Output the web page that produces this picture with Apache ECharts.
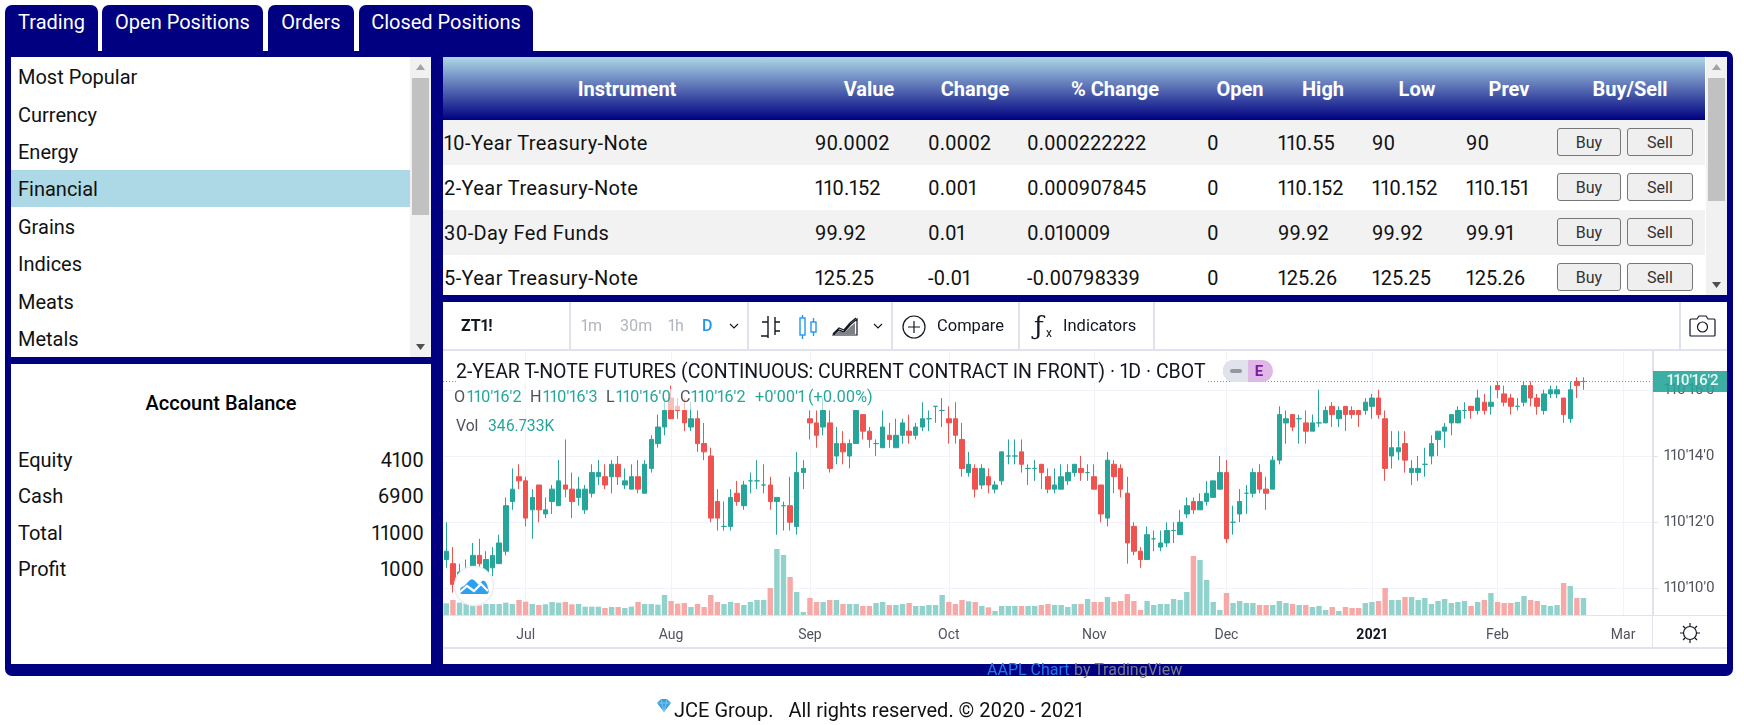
<!DOCTYPE html>
<html><head><meta charset="utf-8">
<script src="https://cdn.jsdelivr.net/npm/echarts@6/dist/echarts.min.js"></script>
<style>
html,body{margin:0;padding:0;width:1744px;height:725px;overflow:hidden;background:#fff;font-family:Roboto,sans-serif;font-variant-numeric:proportional-nums}
.a{position:absolute}
.t{position:absolute;white-space:nowrap;line-height:1;transform:translateY(-50%)}
</style></head><body>
<div id="page"></div>
<script>
// ---- chart data: price ticks are eighths of a 32nd above 110'14'0
const open  = [-25,-26,-30,-30,-27,-24,-28,-27,-26,-23,-11,-5,-6,-13,-7,-14,-11,-12,-7,-8,-10,-13,-9,-5,-5,-5,-2,-7,-8,-5,-9,-3,3,7,14,12,11,7,9,3,0,-11,-17,-17,-9,-12,-6,-6,-7,-7,-11,-12,-12,-17,-4,9,8,7,8,0,3,0,3,10,6,3,2,5,2,5,6,5,7,9,12,11,9,9,4,-4,-3,-7,-5,-8,-6,0,0,1,-3,-3,-2,-5,-8,-8,-6,-4,-3,-4,-5,-7,-15,-2,-3,-9,-17,-23,-25,-20,-22,-21,-18,-19,-14,-11,-13,-11,-10,-8,-4,-16,-14,-9,-9,-4,-8,-8,-1,8,10,9,8,6,8,8,12,9,12,11,11,11,12,14,9,0,1,3,-4,-4,-2,0,4,6,8,8,11,12,11,13,12,17,15,14,12,13,17,14,11,15,15,14,9,18,18];
const close = [-23,-31,-28,-28,-24,-26,-25,-24,-21,-12,-8,-6,-15,-10,-13,-13,-8,-6,-8,-11,-8,-8,-4,-4,-7,-2,-5,-6,-5,-8,-2,4,7,11,9,11,8,9,3,1,-15,-15,-17,-10,-11,-7,-6,-6,-7,-11,-10,-12,-16,-4,-3,8,5,11,-3,3,1,3,11,6,4,3,7,4,5,8,5,7,9,9,12,11,8,5,-3,-2,-8,-3,-7,-7,1,0,0,-2,-3,-3,-4,-8,-7,-5,-4,-2,-4,-4,-8,-14,-1,-5,-8,-21,-23,-25,-19,-20,-21,-18,-18,-16,-12,-13,-11,-9,-6,-4,-20,-16,-11,-9,-4,-8,-9,-1,10,9,7,9,6,8,8,11,10,11,10,10,10,13,14,10,-3,2,2,-1,-3,-3,-2,3,6,7,10,11,11,11,14,11,13,16,13,12,12,17,14,12,15,16,16,10,16,17,18];
const low   = [-27,-33,-33,-33,-28,-28,-29,-29,-26,-24,-13,-8,-17,-20,-16,-15,-14,-12,-10,-15,-12,-14,-10,-7,-8,-9,-7,-8,-8,-9,-9,-4,2,5,9,9,6,6,1,-1,-16,-18,-18,-18,-12,-13,-9,-8,-9,-13,-19,-18,-18,-19,-8,4,2,5,-4,-2,-2,-3,3,4,2,0,2,2,2,3,3,4,6,6,8,7,3,3,-5,-5,-10,-8,-9,-9,-7,-2,-2,-4,-7,-6,-8,-9,-9,-8,-7,-5,-6,-6,-8,-16,-17,-9,-10,-26,-24,-27,-25,-23,-23,-22,-21,-19,-15,-14,-13,-12,-10,-8,-21,-19,-16,-14,-10,-9,-13,-8,-2,3,6,3,3,6,7,8,7,7,6,9,7,10,9,9,-6,-3,-1,-4,-7,-6,-5,-2,0,2,5,8,9,9,10,10,10,14,12,10,11,12,12,10,10,14,14,8,8,14,16];
const high  = [-16,-22,-26,-25,-21,-20,-23,-22,-19,-10,-3,-2,-5,-8,-7,-10,-7,-1,4,-4,-5,-7,-2,-1,-2,-1,0,-3,-2,-1,-1,5,10,14,17,14,14,13,11,8,2,-8,-11,-8,-6,-6,-4,-1,-2,-5,-10,-11,-5,1,-1,11,11,14,11,7,6,4,11,10,7,4,11,8,9,9,10,8,13,11,12,14,12,13,8,1,-2,-2,-3,-6,1,4,4,4,-2,-1,-2,-3,-3,-2,-2,-2,0,-2,-2,-7,1,-1,-2,-5,-16,-22,-17,-18,-18,-16,-16,-13,-10,-10,-9,-6,-6,0,-1,-12,-8,-7,-3,-2,-5,0,12,11,10,10,11,10,16,12,13,12,12,12,11,14,15,16,11,6,6,6,-1,0,2,5,6,8,10,12,13,12,16,15,17,18,17,15,14,18,18,15,16,17,17,14,18,19,19];
const volumeK = [238,306,252,238,197,197,224,224,224,252,224,306,272,224,204,218,265,252,265,218,224,170,170,170,143,163,163,143,170,265,224,224,211,408,286,231,245,163,224,163,408,265,224,265,245,204,265,306,306,551,1346,1224,775,469,61,347,265,265,306,306,224,224,224,184,184,245,265,204,204,224,245,184,184,204,204,408,265,224,306,279,265,184,156,82,184,184,184,184,184,184,204,224,204,204,163,224,224,326,265,265,367,265,286,428,286,102,286,204,224,224,326,306,469,1204,1122,714,265,102,449,245,286,245,245,204,204,204,286,245,224,204,204,163,184,102,163,82,163,143,143,245,265,286,551,306,306,367,367,306,347,224,286,326,245,265,286,184,265,306,449,265,245,245,265,388,306,286,204,184,204,653,592,347,346.733];
const tickIndex = [12,34,55,76,98,118,140,159,178];
const tickLabels = ['Jul','Aug','Sep','Oct','Nov','Dec','2021','Feb','Mar'];
const priceTicks = [10,12,14,16];
const lastPrice = 16.25;
const slotCount = 183;

const menuItems = ['Most Popular','Currency','Energy','Financial','Grains','Indices','Meats','Metals'];
const tabs = ['Trading','Open Positions','Orders','Closed Positions'];
const balanceLabels = ['Equity','Cash','Total','Profit'];
const balanceValues = ['4100','6900','11000','1000'];
const tableHead = ['Instrument','Value','Change','% Change','Open','High','Low','Prev','Buy/Sell'];
const tableRows = [
 ['10-Year Treasury-Note','90.0002','0.0002','0.000222222','0','110.55','90','90'],
 ['2-Year Treasury-Note','110.152','0.001','0.000907845','0','110.152','110.152','110.151'],
 ['30-Day Fed Funds','99.92','0.01','0.010009','0','99.92','99.92','99.91'],
 ['5-Year Treasury-Note','125.25','-0.01','-0.00798339','0','125.26','125.25','125.26']];

// ---- page shell
let page = document.getElementById('page');
function box(x,y,w,h,css){const d=document.createElement('div');d.className='a';d.style.cssText=`left:${x}px;top:${y}px;width:${w}px;height:${h}px;`+(css||'');page.appendChild(d);return d;}
function txt(x,y,s,css,anchor){const d=document.createElement('div');d.className='t';d.textContent=s;
  let st=`top:${y}px;`;
  if(anchor==='r') st+=`right:${1744-x}px;`; else if(anchor==='c') st+=`left:${x}px;transform:translate(-50%,-50%);`; else st+=`left:${x}px;`;
  d.style.cssText=st+(css||'');page.appendChild(d);return d;}
function svg(x,y,w,h,inner,css){const d=document.createElement('div');d.className='a';d.style.cssText=`left:${x}px;top:${y}px;width:${w}px;height:${h}px;`+(css||'');
  d.innerHTML=`<svg width="${w}" height="${h}" viewBox="0 0 ${w} ${h}" xmlns="http://www.w3.org/2000/svg" style="display:block">${inner}</svg>`;page.appendChild(d);return d;}

const NAVY='#000080', UI='color:#111;font-size:20px;';
box(5,51,1728,625,`background:${NAVY};border-radius:0 7px 7px 7px;`);
const tabX=[[5,98],[102,263],[268,354],[359,533]];
tabs.forEach((s,i)=>{box(tabX[i][0],5,tabX[i][1]-tabX[i][0],50,`background:${NAVY};border-radius:7px 7px 0 0;`);
  txt((tabX[i][0]+tabX[i][1])/2,22,s,'color:#fff;font-size:20px;','c');});

// left list
box(11,57,420,300,'background:#fff;');
box(11,170,399,37,'background:#add8e6;');
const menuY=[77,114.5,152,189,226.5,264,302,339];
menuItems.forEach((s,i)=>txt(18,menuY[i],s,UI));
function scrollbar(x,y,w,h,thumbTop,thumbH){
  box(x,y,w,h,'background:#f1f1f1;');
  box(x+2,thumbTop,w-4,thumbH,'background:#c1c1c1;');
  svg(x+6,y+7,9,6,'<polygon points="4.5,0 9,6 0,6" fill="#a3a3a3"/>');
  svg(x+6,y+h-13,9,6,'<polygon points="0,0 9,0 4.5,6" fill="#505050"/>');
}
scrollbar(410,57,21,300,78,137);

// balance
box(11,364,420,300,'background:#fff;');
txt(221,403,'Account Balance','color:#000;font-size:20px;font-weight:500;','c');
const balY=[460,496,533,569];
balanceLabels.forEach((s,i)=>{txt(18,balY[i],s,UI);txt(424,balY[i],balanceValues[i],UI,'r');});

// table
box(443,57,1284,238,'background:#fff;overflow:hidden;');
box(443,57,1262,63,`background:linear-gradient(#add8e6,${NAVY});`);
const headC=[627,869,975,1115,1240,1323,1417,1509,1630];
tableHead.forEach((s,i)=>txt(headC[i],89,s,'color:#fff;font-size:20px;font-weight:700;','c'));
const colX=[444,815,928,1027,1207,1278,1372,1466];
const rowTop=[120,165,210,255];
tableRows.forEach((r,i)=>{
  const h=i===3?40:45;
  box(443,rowTop[i],1262,h,`background:${i%2?'#fff':'#f2f2f2'};`);
  const cy=rowTop[i]+23;
  r.forEach((s,j)=>txt(colX[j],cy,s,UI+(j===0?'letter-spacing:.4px;':'')));
  [['Buy',1557,64],['Sell',1627,66]].forEach(b=>{
    const d=box(b[1],rowTop[i]+8,b[2]-2,26,'background:#efefef;border:1px solid #767676;border-radius:3px;text-align:center;color:#333;font-size:16px;line-height:27px;');
    d.textContent=b[0];
  });
});
scrollbar(1706,57,21,238,78,123);

// chart frame
box(443,302,1284,362,'background:#fff;');
</script>
<div id="chart" class="a" style="left:443px;top:302px;width:1284px;height:346px;z-index:1"></div>
<div id="over" class="a" style="left:0;top:0;width:1744px;height:725px;z-index:2"></div>
<script>
// ---- ECharts
const price = t => 14 + t / 8;
const UP='#26a69a', DOWN='#ef5350', UPV='#92d2cc', DOWNV='#f7a9a7';
const cats = Array.from({length:slotCount},()=>'');
tickIndex.forEach((idx,k)=>{cats[idx]=tickLabels[k];});
const showTick=(i)=>cats[i]!=='';
const candleData = open.map((o,i)=>{
  const col = close[i]>=o ? UP : DOWN;
  return {value:[price(o),price(close[i]),price(low[i]),price(high[i])],
          itemStyle:{color:col,color0:col,borderColor:col,borderColor0:col,borderColorDoji:col}};
});
const volData = volumeK.map((v,i)=>({value:v,itemStyle:{color:close[i]>=open[i]?UPV:DOWNV}}));
const fmt = v => "110'"+Math.floor(v)+"'"+Math.floor((v-Math.floor(v))*10);
const chart = echarts.init(document.getElementById('chart'),null,{renderer:'canvas'});
const LABEL='#50535e', FONT='Roboto,sans-serif';
chart.setOption({
  animation:false, backgroundColor:'transparent',
  grid:{left:-1.6,top:49,width:1211.5,height:264,containLabel:false},
  xAxis:{type:'category',data:cats,boundaryGap:true,
    axisLine:{lineStyle:{color:'#e0e3eb',width:1}},
    axisTick:{alignWithLabel:true,interval:showTick,length:5,lineStyle:{color:'#e0e3eb'}},
    splitLine:{show:true,alignWithLabel:true,interval:showTick,lineStyle:{color:'#f0f3fa'}},
    axisLabel:{interval:showTick,hideOverlap:false,margin:13,fontFamily:FONT,fontSize:14,color:LABEL,
      formatter:v=>v==='2021'?'{b|2021}':v,rich:{b:{fontWeight:700,fontSize:14,color:'#131722',fontFamily:FONT}}}},
  yAxis:[
   {type:'value',position:'right',min:9.2,max:17.17,scale:true,
    axisLine:{show:true,lineStyle:{color:'#e0e3eb'}},
    axisTick:{show:true,length:5,customValues:priceTicks,lineStyle:{color:'#e0e3eb'}},
    splitLine:{show:true,lineStyle:{color:'#f0f3fa'}},
    axisLabel:{customValues:priceTicks,margin:11,padding:[6,0,0,0],fontFamily:FONT,fontSize:15,color:LABEL,formatter:fmt}},
   {type:'value',min:0,max:5386,show:false}],
  series:[
   {type:'bar',name:'Volume',yAxisIndex:1,data:volData,barWidth:5.4,z:2,clip:false,silent:true},
   {type:'candlestick',name:'ZT1!',yAxisIndex:0,data:candleData,barWidth:5,clip:false,z:3,silent:true,
    markLine:{silent:true,symbol:'none',animation:false,precision:4,
      lineStyle:{color:UP,type:[1,2],width:1,opacity:.9},
      label:{position:'end',distance:0,formatter:()=>fmt(lastPrice),backgroundColor:UP,color:'#fff',
        fontFamily:FONT,fontSize:15,fontWeight:500,padding:[3,13,3,14],lineHeight:15},
      data:[{yAxis:lastPrice}]}}
  ]
});

// ---- chart overlays sit above the chart canvas
page = document.getElementById('over');
box(443,615,1284,1,'background:#e0e3eb;');
box(1652,350,1,298,'background:#e0e3eb;');
box(443,647,1284,2,'background:#e0e3eb;');
box(443,349,1284,2,'background:#e0e3eb;');
[569,747,891,1018,1153,1679].forEach(x=>box(x,302,2,48,'background:#e0e3eb;'));
txt(461,326,'ZT1!','color:#131722;font-size:16px;font-weight:700;');
[['1m',581],['30m',620],['1h',668]].forEach(a=>txt(a[1],326,a[0],'color:#b2b5be;font-size:16px;'));
txt(702,326,'D','color:#2196f3;font-size:16px;font-weight:500;');
const chev=x=>svg(x,323,10,6,'<path d="M1 1 L5 5 L9 1" fill="none" stroke="#131722" stroke-width="1.1"/>');
chev(729);chev(873);
svg(760,314,22,26,'<path d="M8 2V24M8 8H2M8 22H1M15 3V21M15 8H20M15 17H20" fill="none" stroke="#131722" stroke-width="1.4"/>');
svg(797,314,22,26,'<g fill="none" stroke="#2196f3" stroke-width="1.4"><rect x="3" y="4" width="5" height="17"/><path d="M5.5 1V4M5.5 21V25"/><rect x="14" y="8" width="5" height="10"/><path d="M16.5 4V8M16.5 18V22"/></g>');
svg(832,316,26,20,'<path d="M1 18 L7 12 L12 14 L18 7 L24 2 M1 19H25V3 L18 9 L12 16 L7 14Z" fill="none" stroke="#131722" stroke-width="1.2"/><path d="M3 18L9 14 12 17 18 11 23 7V18Z" fill="#131722" opacity=".55"/>');
svg(902,315,24,24,'<circle cx="12" cy="12" r="11" fill="none" stroke="#131722" stroke-width="1.2"/><path d="M12 6V18M6 12H18" stroke="#131722" stroke-width="1.2"/>');
txt(937,326,'Compare','color:#131722;font-size:16.5px;');
txt(1034,326,'ƒ','color:#131722;font-size:26px;font-family:"DejaVu Serif",serif;');
txt(1046,333,'x','color:#131722;font-size:12px;');
txt(1063,326,'Indicators','color:#131722;font-size:16.5px;');
svg(1688,314,28,24,'<path d="M3 5H9L11 2H18L20 5H26Q27 5 27 6V21Q27 22 26 22H3Q2 22 2 21V6Q2 5 3 5Z" fill="none" stroke="#131722" stroke-width="1.2"/><circle cx="14.5" cy="13" r="5" fill="none" stroke="#131722" stroke-width="1.2"/>');
svg(1679,622,22,22,'<circle cx="11" cy="11" r="6.5" fill="none" stroke="#131722" stroke-width="1.2"/><path d="M11 1V4M11 18V21M1 11H4M18 11H21M4 4L6 6M16 16L18 18M18 4L16 6M6 16L4 18" stroke="#131722" stroke-width="1.2"/>');

txt(456,372,'2-YEAR T-NOTE FUTURES (CONTINUOUS: CURRENT CONTRACT IN FRONT) · 1D · CBOT','color:#131722;font-size:19.5px;background:#fff;padding-right:2px;');
box(1223,360,50,22,'background:#dfb8e8;border-radius:11px;overflow:hidden;');
box(1223,360,25,22,'background:#e0e3eb;border-radius:11px 0 0 11px;');
box(1230,369,12,4,'background:#9598a1;border-radius:2px;');
txt(1259,371,'E','color:#7b1fa2;font-size:15px;font-weight:700;','c');
box(453,389,417,21,'background:rgba(255,255,255,.62);');
const LEG=[['O','#50535e',454],["110'16'2",UP,467],['H','#50535e',530],["110'16'3",UP,543],['L','#50535e',606],["110'16'0",UP,616],['C','#50535e',680],["110'16'2",UP,691],["+0'00'1",UP,755],['(+0.00%)',UP,808]];
LEG.forEach(a=>txt(a[2],397,a[0],`color:${a[1]};font-size:16.2px;`));
txt(456,426,'Vol','color:#50535e;font-size:15.7px;');
txt(488,426,'346.733K',`color:${UP};font-size:15.7px;`);
svg(452,565,44,44,'<circle cx="22" cy="21" r="19.5" fill="#fff" stroke="#ebedf2" stroke-width="1.5"/><path d="M9 29 Q6 22 12 21 L18 15 Q21 13 24 17 L27 20 L30 16 Q34 14 36 23 Q38 28 35 29Z" fill="#2f9ff0"/><path d="M8 27 L15 21 L22 26 L29 19 L36 26" fill="none" stroke="#fff" stroke-width="2.2"/>');

// footer
txt(987,670,'AAPL Chart','color:#2277ee;font-size:16px;');
txt(1074,670,'by TradingView','color:#787b86;font-size:16px;');
svg(655,698,18,16,'<polygon points="2,5 6,1 12,1 16,5 9,14" fill="#3aa0dc"/><path d="M2 5H16M6 1L9 14 12 1" stroke="#8fd0f2" stroke-width=".8" fill="none"/>');
txt(674,710,'JCE Group.   All rights reserved. © 2020 - 2021','color:#111;font-size:20px;white-space:pre;');
</script>
</body></html>
